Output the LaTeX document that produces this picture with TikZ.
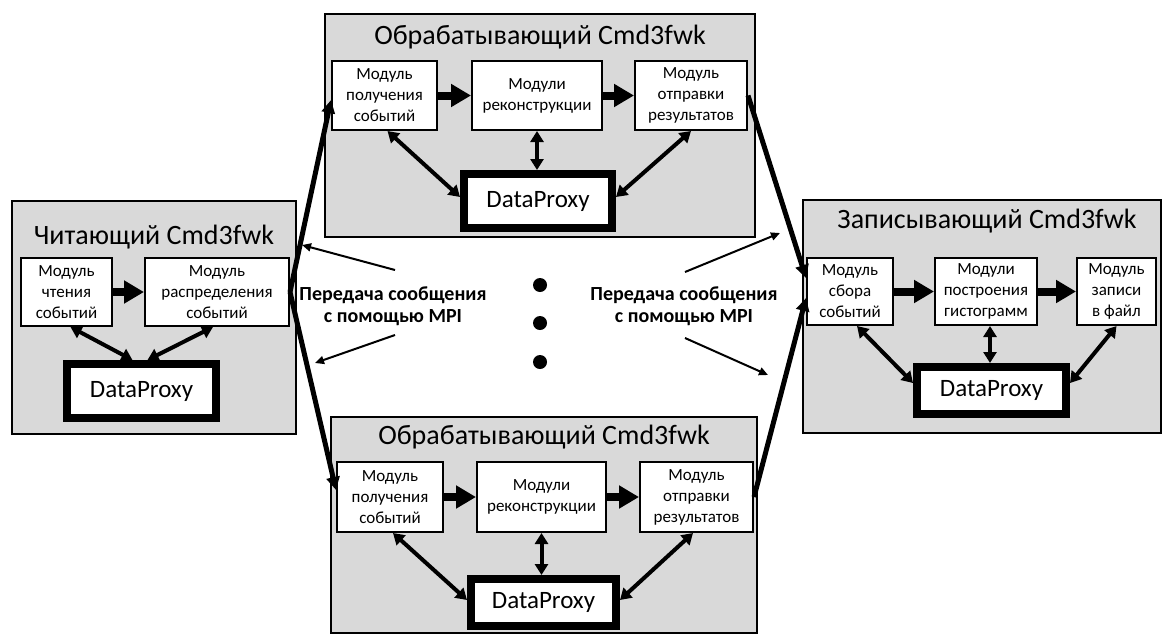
\documentclass[tikz,border=0pt]{standalone}
\usepackage{fontspec}
\setmainfont{Carlito}
\usetikzlibrary{arrows.meta,calc}
\definecolor{boxgray}{RGB}{217,217,217}
\begin{document}
\begin{tikzpicture}[x=1pt,y=-1pt,
  outerbox/.style={draw=black,fill=boxgray,line width=1.5pt,inner sep=0pt},
  titletext/.style={font=\fontsize{28}{32}\selectfont,inner sep=0pt},
  modbox/.style={draw=black,fill=white,line width=2pt,inner sep=0pt,align=center,
    font=\fontsize{17}{21}\selectfont},
  dpbox/.style={draw=black,fill=white,line width=8pt,inner sep=0pt,
    font=\fontsize{25}{28}\selectfont},
  fatarrow/.style={line width=8pt,-{Triangle[length=20pt,width=22pt]}},
  dblarrow/.style={line width=4pt,{Triangle[length=11pt,width=13pt]}-{Triangle[length=11pt,width=13pt]}},
  bigarrow/.style={line width=5pt,-{Triangle[length=13pt,width=13pt]}},
  thinarrow/.style={line width=2pt,-{Triangle[length=9pt,width=8pt]}},
  mpitext/.style={font=\bfseries\fontsize{20}{22}\selectfont,align=center,inner sep=0pt},
  dot/.style={circle,fill=black,inner sep=0pt,minimum size=14pt}
]
\useasboundingbox (0,0) rectangle (1164,635);

% ---------- Reader ----------
\node[outerbox,minimum width=284,minimum height=233] (R) at (154,317.5) {};
\node[titletext] (Rt) at (154,237) {Читающий Cmd3fwk};
\node[modbox,minimum width=91,minimum height=68] (r1) at (66.5,292) {Модуль\\чтения\\событий};
\node[modbox,minimum width=144,minimum height=68] (r2) at (217,292) {Модуль\\распределения\\событий};
\node[dpbox,minimum width=149,minimum height=54] (rdp) at (141.5,391) {DataProxy};
\draw[fatarrow] (r1.east) -- (r2.west);
\draw[dblarrow] ([xshift=4pt]r1.south) -- ([xshift=-9pt]rdp.north);
\draw[dblarrow] ([xshift=-4pt]r2.south) -- ([xshift=6pt]rdp.north);

% ---------- Top processing ----------
\node[outerbox,minimum width=430,minimum height=223] (P1) at (540,125.5) {};
\node[titletext] (P1t) at (540,37) {Обрабатывающий Cmd3fwk};
\node[modbox,minimum width=105,minimum height=69] (p1a) at (384.5,95.5) {Модуль\\получения\\событий};
\node[modbox,minimum width=130,minimum height=69] (p1b) at (537,95.5) {Модули\\реконструкции};
\node[modbox,minimum width=112,minimum height=69] (p1c) at (691,95.5) {Модуль\\отправки\\результатов};
\node[dpbox,minimum width=148,minimum height=54] (p1dp) at (538,201) {DataProxy};
\draw[fatarrow] (p1a.east) -- (p1b.west);
\draw[fatarrow] (p1b.east) -- (p1c.west);
\draw[dblarrow] ([xshift=3pt]p1a.south) -- ([yshift=4pt]p1dp.west);
\draw[dblarrow] (p1b.south) -- (p1b.south |- p1dp.north);
\draw[dblarrow] (p1c.south) -- ([yshift=4pt]p1dp.east);

% ---------- Bottom processing ----------
\node[outerbox,minimum width=426,minimum height=216] (P2) at (544,525) {};
\node[titletext] (P2t) at (544,437) {Обрабатывающий Cmd3fwk};
\node[modbox,minimum width=106,minimum height=70] (p2a) at (390,497) {Модуль\\получения\\событий};
\node[modbox,minimum width=129,minimum height=70] (p2b) at (541.5,497) {Модули\\реконструкции};
\node[modbox,minimum width=113,minimum height=70] (p2c) at (696.5,497) {Модуль\\отправки\\результатов};
\node[dpbox,minimum width=145,minimum height=47] (p2dp) at (543.5,602.5) {DataProxy};
\draw[fatarrow] (p2a.east) -- (p2b.west);
\draw[fatarrow] (p2b.east) -- (p2c.west);
\draw[dblarrow] ([xshift=3pt]p2a.south) -- ([yshift=2.5pt]p2dp.west);
\draw[dblarrow] (p2b.south) -- (p2b.south |- p2dp.north);
\draw[dblarrow] ([xshift=-3.5pt]p2c.south) -- ([yshift=2.5pt]p2dp.east);

% ---------- Writer ----------
\node[outerbox,minimum width=358,minimum height=233] (W) at (982,316.5) {};
\node[titletext] (Wt) at (987,221) {Записывающий Cmd3fwk};
\node[modbox,minimum width=86,minimum height=67] (w1) at (850,291.5) {Модуль\\сбора\\событий};
\node[modbox,minimum width=102,minimum height=67] (w2) at (986,291.5) {Модули\\построения\\гистограмм};
\node[modbox,minimum width=79,minimum height=67] (w3) at (1116.5,291.5) {Модуль\\записи\\в файл};
\node[dpbox,minimum width=149,minimum height=47] (wdp) at (991.5,390.5) {DataProxy};
\draw[fatarrow] (w1.east) -- (w2.west);
\draw[fatarrow] (w2.east) -- (w3.west);
\draw[dblarrow] ([xshift=7pt]w1.south) -- ([yshift=7.5pt]wdp.west);
\draw[dblarrow] ([xshift=4pt]w2.south) -- ([xshift=4pt]w2.south |- wdp.north);
\draw[dblarrow] (w3.south) -- ([yshift=7.5pt]wdp.east);

% ---------- MPI connectors ----------
\draw[bigarrow] (r2.east) -- ([yshift=-4.5pt]p1a.west);
\draw[bigarrow] (r2.east) -- ([yshift=7pt]p2a.west);
\draw[bigarrow] (p1c.east) -- ([yshift=13.5pt]w1.west);
\draw[bigarrow] (p2c.east) -- ([yshift=-6.5pt]w1.west);

% ---------- Labels ----------
\node[mpitext] (L) at (393,306) {Передача сообщения\\с помощью MPI};
\node[mpitext] (Rl) at (684,306) {Передача сообщения\\с помощью MPI};
\coordinate (la) at (395,270);
\coordinate (lb) at (395,335);
\coordinate (ra) at (685,272);
\coordinate (rb) at (685,338);
\coordinate (laend) at (302,245);
\coordinate (lbend) at (315,363);
\coordinate (raend) at (780,233);
\coordinate (rbend) at (768,375);
\draw[thinarrow] (la) -- (laend);
\draw[thinarrow] (lb) -- (lbend);
\draw[thinarrow] (ra) -- (raend);
\draw[thinarrow] (rb) -- (rbend);

% ---------- Dots ----------
\node[dot] (d1) at (540,285) {};
\node[dot] (d2) at (540,323) {};
\node[dot] (d3) at (540,362) {};
\end{tikzpicture}
\end{document}
